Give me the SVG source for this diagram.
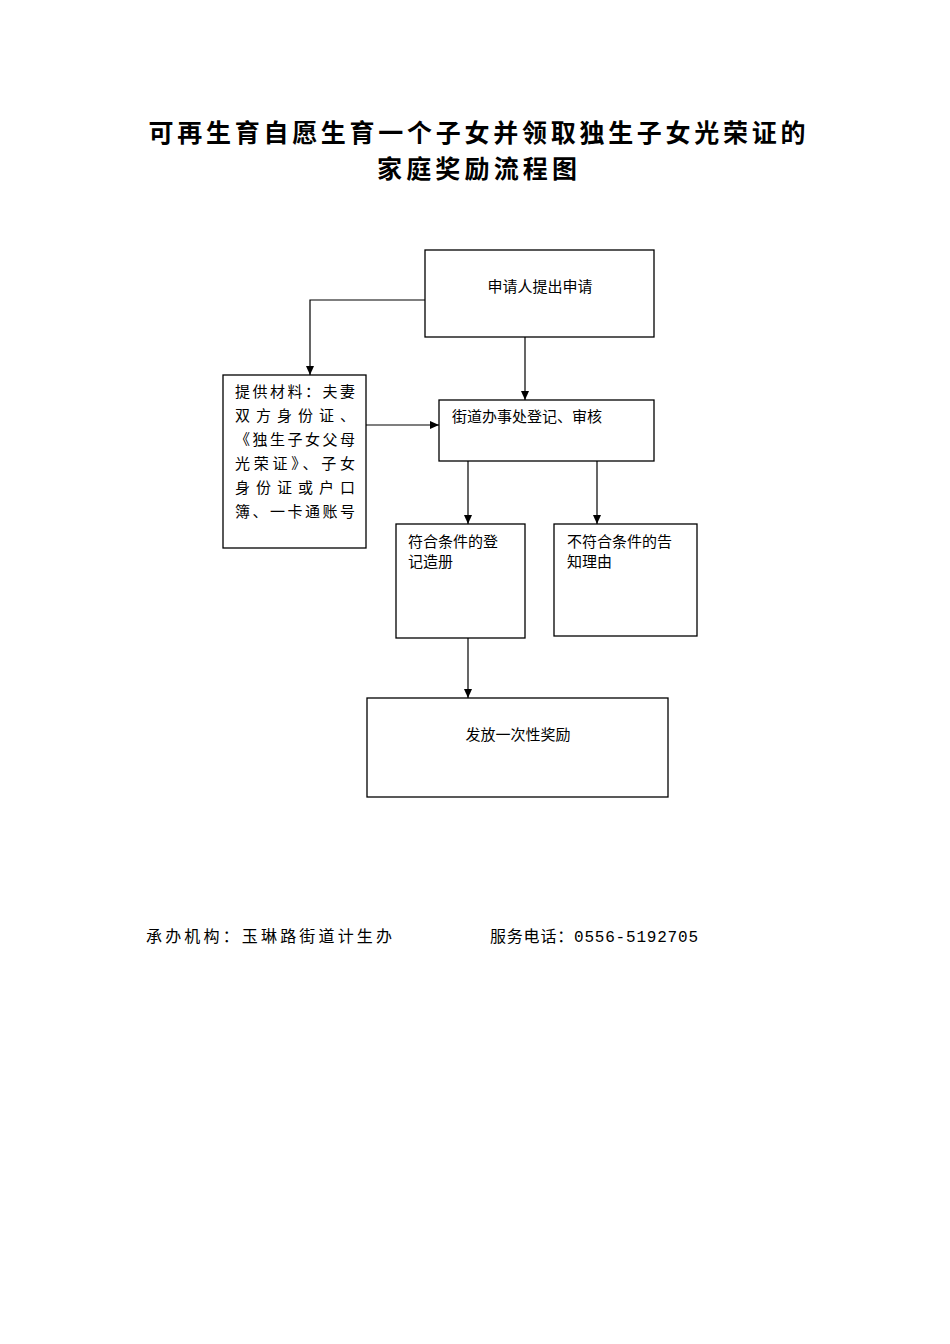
<svg xmlns="http://www.w3.org/2000/svg" width="950" height="1344" viewBox="0 0 950 1344">
<style>
.b{fill:none;stroke:#000;stroke-width:1.3}
.t{font-family:"Liberation Serif","Noto Sans CJK SC",serif;font-size:15px;fill:#000}
.h{font-family:"Noto Sans CJK SC",sans-serif;font-size:25px;font-weight:bold;fill:#000;text-anchor:middle}
.f{font-family:"Liberation Mono","Noto Sans CJK SC",monospace;font-size:16px;fill:#000}
.c{fill:none;stroke:#000;stroke-width:1.2;marker-end:url(#a)}
</style>
<defs><marker id="a" markerWidth="10" markerHeight="10" refX="9" refY="5" orient="auto" markerUnits="userSpaceOnUse"><path d="M0,1 L9,5 L0,9 Z" fill="#000"/></marker></defs>
<rect width="950" height="1344" fill="#fff"/>
<text class="h" x="477" y="142" textLength="657">可再生育自愿生育一个子女并领取独生子女光荣证的</text>
<text class="h" x="477" y="178" textLength="200">家庭奖励流程图</text>
<g id="n1"><rect class="b" x="425" y="250" width="229" height="87"/><text class="t" x="540" y="292" text-anchor="middle">申请人提出申请</text></g>
<g id="n2"><rect class="b" x="223" y="375" width="143" height="173"/>
<text class="t" x="235" y="397" textLength="120">提供材料：夫妻</text>
<text class="t" x="235" y="421" textLength="120">双方身份证、</text>
<text class="t" x="235" y="445" textLength="120">《独生子女父母</text>
<text class="t" x="235" y="469" textLength="120">光荣证》、子女</text>
<text class="t" x="235" y="493" textLength="120">身份证或户口</text>
<text class="t" x="235" y="517" textLength="120">簿、一卡通账号</text></g>
<g id="n3"><rect class="b" x="439" y="400" width="215" height="61"/><text class="t" x="452" y="422">街道办事处登记、审核</text></g>
<g id="n4"><rect class="b" x="396" y="524" width="129" height="114"/><text class="t" x="408" y="547">符合条件的登</text><text class="t" x="408" y="567">记造册</text></g>
<g id="n5"><rect class="b" x="554" y="524" width="143" height="112"/><text class="t" x="567" y="547">不符合条件的告</text><text class="t" x="567" y="567">知理由</text></g>
<g id="n6"><rect class="b" x="367" y="698" width="301" height="99"/><text class="t" x="518" y="740" text-anchor="middle">发放一次性奖励</text></g>
<g id="connectors">
<path class="c" d="M425,300 H310 V375"/>
<path class="c" d="M525,337 V400"/>
<path class="c" d="M366,425 H439"/>
<path class="c" d="M468,461 V524"/>
<path class="c" d="M597,461 V524"/>
<path class="c" d="M468,638 V698"/>
</g>
<text class="f" x="146" y="942" textLength="246">承办机构：玉琳路街道计生办</text>
<text class="f" x="490" y="942" textLength="208">服务电话：0556-5192705</text>
</svg>
